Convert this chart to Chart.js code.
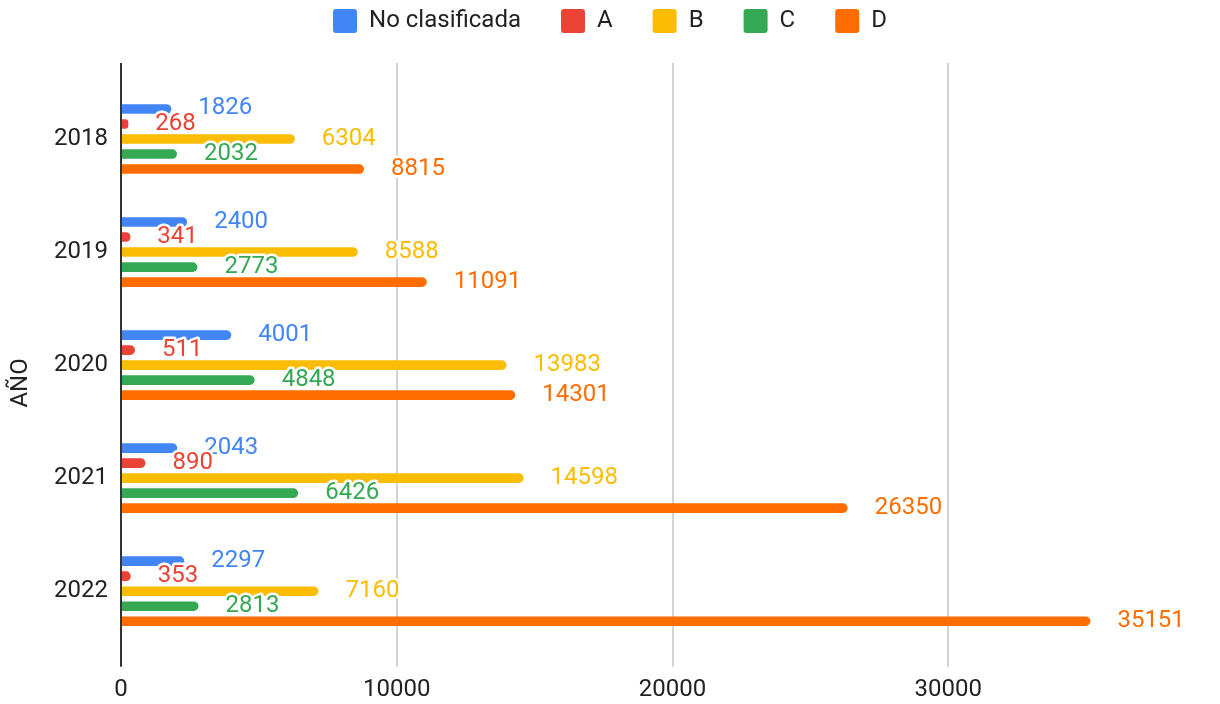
<!DOCTYPE html>
<html>
<head>
<meta charset="utf-8">
<script src="https://cdn.jsdelivr.net/npm/chart.js@4.4.1/dist/chart.umd.min.js"></script>
<style>
  html, body { margin: 0; padding: 0; background: #ffffff; }
  #wrap { width: 1220px; height: 704px; }
</style>
</head>
<body>
<div id="wrap"><canvas id="c" width="1220" height="704"></canvas></div>
<script>
// ---- data ----
const categories = ['2018', '2019', '2020', '2021', '2022'];
const seriesNames = ['No clasificada', 'A', 'B', 'C', 'D'];
const noClasificada = [1826, 2400, 4001, 2043, 2297];
const valuesA = [268, 341, 511, 890, 353];
const valuesB = [6304, 8588, 13983, 14598, 7160];
const valuesC = [2032, 2773, 4848, 6426, 2813];
const valuesD = [8815, 11091, 14301, 26350, 35151];
const xTickValues = [0, 10000, 20000, 30000];
const seriesColors = ['#4285F4', '#EA4335', '#FBBC04', '#34A853', '#FF6D01'];
const axisTitle = 'AÑO';

const seriesValues = [noClasificada, valuesA, valuesB, valuesC, valuesD];

Chart.defaults.font.family = 'Roboto';
Chart.defaults.font.size = 24;
Chart.defaults.color = '#222222';

const X_MAX = 39850;

const gridColor = (c) => (c.tick && c.tick.value === 0 ? '#333333' : '#d3d3d3');
const gridWidth = (c) => 2;
const setTicks = (scale) => {
  scale.ticks = xTickValues.map(v => ({ value: v }));
};

// value labels with white halo, drawn from the bar elements
const valueLabels = {
  id: 'valueLabels',
  afterDatasetsDraw(chart) {
    const ctx = chart.ctx;
    ctx.save();
    ctx.font = '24px Roboto';
    ctx.textAlign = 'left';
    ctx.textBaseline = 'middle';
    ctx.lineJoin = 'round';
    chart.data.datasets.forEach((ds, i) => {
      const meta = chart.getDatasetMeta(i);
      if (meta.hidden) return;
      meta.data.forEach((bar, j) => {
        const txt = String(ds.data[j]);
        const x = bar.x + 27;
        const y = bar.y - 0.5;
        ctx.lineWidth = 5;
        ctx.strokeStyle = '#ffffff';
        ctx.strokeText(txt, x, y);
        ctx.fillStyle = ds.backgroundColor;
        ctx.fillText(txt, x, y);
      });
    });
    ctx.restore();
  }
};

new Chart(document.getElementById('c'), {
  type: 'bar',
  data: {
    labels: categories,
    datasets: seriesNames.map((name, i) => ({
      label: name,
      data: seriesValues[i],
      backgroundColor: seriesColors[i],
      borderColor: seriesColors[i],
      borderWidth: 0,
      borderRadius: 5,
      borderSkipped: 'start',
      categoryPercentage: 0.664,
      barPercentage: 0.64
    }))
  },
  options: {
    indexAxis: 'y',
    responsive: false,
    animation: false,
    layout: { padding: { top: -31, left: 0, right: 0, bottom: -9.5 } },
    plugins: {
      legend: {
        position: 'top',
        align: 'center',
        labels: {
          boxWidth: 24,
          boxHeight: 24,
          padding: 40,
          color: '#222222',
          font: { size: 24 },
          generateLabels(chart) {
            return chart.data.datasets.map((ds, i) => ({
              text: ds.label,
              fillStyle: ds.backgroundColor,
              strokeStyle: ds.backgroundColor,
              lineWidth: 0,
              borderRadius: 3,
              hidden: !chart.isDatasetVisible(i),
              datasetIndex: i,
              fontColor: '#222222'
            }));
          }
        }
      },
      tooltip: { enabled: false }
    },
    scales: {
      x: {
        type: 'linear',
        position: 'bottom',
        min: 0,
        max: X_MAX,
        afterBuildTicks: setTicks,
        ticks: {
          padding: 9,
          autoSkip: false,
          color: '#222222',
          font: { size: 24 },
          callback: (v) => String(v)
        },
        grid: {
          color: gridColor,
          lineWidth: gridWidth,
          drawTicks: true,
          tickLength: 19
        },
        border: { display: false }
      },
      x2: {
        type: 'linear',
        position: 'top',
        min: 0,
        max: X_MAX,
        afterBuildTicks: setTicks,
        ticks: { display: false, autoSkip: false },
        grid: {
          color: gridColor,
          lineWidth: gridWidth,
          drawOnChartArea: false,
          drawTicks: true,
          tickLength: 19.5
        },
        border: { display: false },
        title: { display: true, text: '', font: { size: 10, lineHeight: 1 }, padding: { top: 5, bottom: 5 } }
      },
      y: {
        type: 'category',
        position: 'left',
        grid: { display: false, drawTicks: false },
        border: { display: false },
        ticks: { padding: 13, color: '#222222', font: { size: 24 } },
        title: {
          display: true,
          text: axisTitle + '      ',
          color: '#222222',
          font: { size: 24 },
          padding: { top: 6.6, bottom: 5.6 }
        }
      }
    }
  },
  plugins: [valueLabels]
});
</script>
</body>
</html>
